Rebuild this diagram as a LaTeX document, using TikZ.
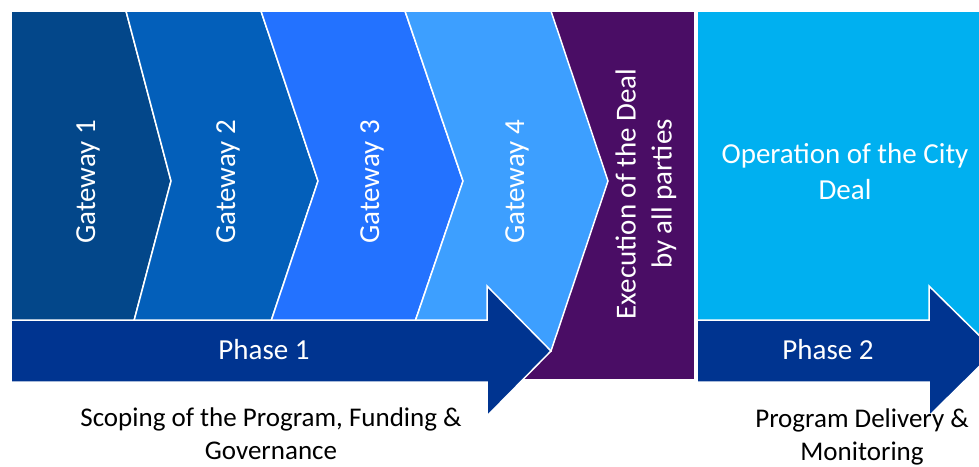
\documentclass[tikz,border=0pt]{standalone}
\usepackage{fontspec}
\setmainfont{Carlito}
\usetikzlibrary{positioning}
\definecolor{gateone}{HTML}{03478A}
\definecolor{gatetwo}{HTML}{035FBA}
\definecolor{gatethree}{HTML}{2372FF}
\definecolor{gatefour}{HTML}{3D9FFF}
\definecolor{dealpurple}{HTML}{4A0D65}
\definecolor{opcyan}{HTML}{00B0F0}
\definecolor{phasenavy}{HTML}{003490}

\begin{document}
\begin{tikzpicture}[x=1pt, y=-1pt,
  blk/.style={draw=white, line width=1.5pt, line join=miter},
  whitetxt/.style={text=white, font=\fontsize{29}{36}\selectfont, align=center, inner sep=0pt},
  gatetxt/.style={whitetxt, rotate=90},
  undertxt/.style={text=black, font=\fontsize{27}{33}\selectfont, align=center, inner sep=0pt}
]
\useasboundingbox (0,0) rectangle (979,466);

% background blocks
\fill[blk, fill=dealpurple] (500,11) rectangle (695,380);
\fill[blk, fill=opcyan] (697,11) rectangle (1000,360);

% gateway chevrons
\fill[blk, fill=gateone] (11,11) -- (126,11) -- (171,181) -- (126,351) -- (11,351) -- cycle;
\fill[blk, fill=gatetwo] (126,11) -- (261,11) -- (318,181) -- (261,351) -- (126,351) -- (171,181) -- cycle;
\fill[blk, fill=gatethree] (261,11) -- (405,11) -- (463,181) -- (405,351) -- (261,351) -- (318,181) -- cycle;
\fill[blk, fill=gatefour] (405,11) -- (551,11) -- (608,181) -- (551,351) -- (405,351) -- (463,181) -- cycle;

% phase arrows
\fill[blk, fill=phasenavy] (11,320) -- (487,320) -- (487,286) -- (551,351) -- (487,416) -- (487,382) -- (11,382) -- cycle;
\fill[blk, fill=phasenavy] (697,320) -- (929,320) -- (929,286) -- (995,351) -- (929,416) -- (929,382) -- (697,382) -- cycle;

\node[gatetxt] (gate1) at (88,182) {Gateway 1};
\node[gatetxt] (gate2) at (228,182) {Gateway 2};
\node[gatetxt] (gate3) at (372,182) {Gateway 3};
\node[gatetxt] (gate4) at (517,182) {Gateway 4};
\node[gatetxt] (exec) at (646,194) {Execution of the Deal\\by all parties};
\node[whitetxt] (oper) at (845,172) {Operation of the City\\Deal};
\node[whitetxt] (phase1) at (264,350) {Phase 1};
\node[whitetxt] (phase2) at (828,350) {Phase 2};
\node[undertxt] (scope) at (271,434) {Scoping of the Program, Funding \&\\Governance};
\node[undertxt] (deliv) at (862,437) {Program Delivery \&\\Monitoring};
\end{tikzpicture}
\end{document}
